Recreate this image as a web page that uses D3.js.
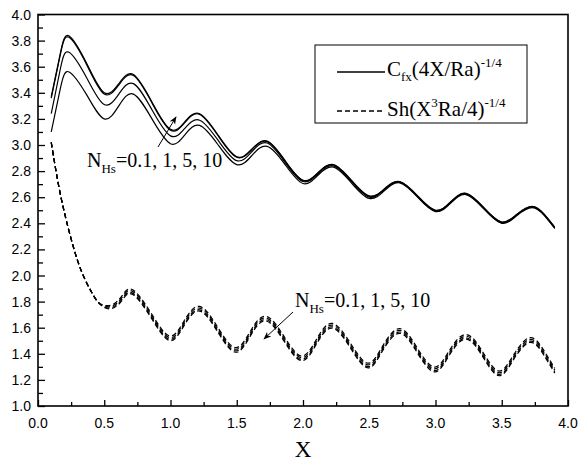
<!DOCTYPE html>
<html>
<head>
<meta charset="utf-8">
<script src="https://cdn.jsdelivr.net/npm/d3@7"></script>
<style>
  html, body { margin: 0; padding: 0; background: #fff; }
  svg { display: block; }
</style>
</head>
<body>
<svg id="chart" width="579" height="463"></svg>
<script>
// ---------- DATA ----------
const nhsLabels = ["0.1", "1", "5", "10"];

// Cfx(4X/Ra)^-1/4 curves (solid)
const cfxX = [0.1, 0.17, 0.235, 0.37, 0.5, 0.61, 0.72, 0.86, 1.0, 1.11, 1.22, 1.36, 1.5, 1.615, 1.73, 1.865, 2.0, 2.115, 2.23, 2.365, 2.5, 2.615, 2.73, 2.865, 3.0, 3.115, 3.23, 3.365, 3.5, 3.615, 3.73, 3.82, 3.9];
const cfxN01 = [3.10, 3.44, 3.56, 3.38, 3.20, 3.30, 3.39, 3.20, 3.01, 3.08, 3.15, 3.00, 2.85, 2.92, 2.99, 2.85, 2.705, 2.77, 2.83, 2.71, 2.59, 2.65, 2.71, 2.60, 2.49, 2.555, 2.62, 2.51, 2.40, 2.46, 2.52, 2.46, 2.36];
const cfxN1  = [3.24, 3.59, 3.71, 3.51, 3.31, 3.39, 3.47, 3.27, 3.07, 3.13, 3.19, 3.035, 2.88, 2.95, 3.015, 2.865, 2.72, 2.78, 2.84, 2.72, 2.60, 2.66, 2.715, 2.605, 2.495, 2.56, 2.625, 2.515, 2.405, 2.465, 2.525, 2.465, 2.365];
const cfxN5  = [3.36, 3.70, 3.825, 3.61, 3.39, 3.46, 3.533, 3.323, 3.113, 3.174, 3.235, 3.07, 2.906, 2.966, 3.026, 2.876, 2.727, 2.787, 2.847, 2.727, 2.607, 2.662, 2.718, 2.608, 2.498, 2.563, 2.628, 2.518, 2.408, 2.468, 2.528, 2.468, 2.368];
const cfxN10 = [3.37, 3.71, 3.835, 3.62, 3.40, 3.47, 3.54, 3.33, 3.12, 3.18, 3.24, 3.075, 2.91, 2.97, 3.03, 2.88, 2.73, 2.79, 2.85, 2.73, 2.61, 2.665, 2.72, 2.61, 2.50, 2.565, 2.63, 2.52, 2.41, 2.47, 2.53, 2.47, 2.37];

// Sh(X^3 Ra/4)^-1/4 curves (dashed)
const shX = [0.1, 0.15, 0.2, 0.25, 0.3, 0.35, 0.4, 0.45, 0.5, 0.56, 0.63, 0.71, 0.85, 0.99, 1.1, 1.22, 1.36, 1.49, 1.6, 1.72, 1.86, 1.99, 2.1, 2.22, 2.36, 2.49, 2.6, 2.73, 2.86, 2.99, 3.1, 3.23, 3.36, 3.48, 3.59, 3.71, 3.81, 3.9];
const shN01 = [3.02, 2.72, 2.48, 2.28, 2.11, 1.98, 1.88, 1.80, 1.772, 1.776, 1.838, 1.893, 1.718, 1.538, 1.648, 1.763, 1.598, 1.448, 1.568, 1.688, 1.528, 1.383, 1.508, 1.633, 1.478, 1.328, 1.458, 1.593, 1.448, 1.298, 1.418, 1.548, 1.408, 1.268, 1.393, 1.523, 1.438, 1.288];
const shN1  = [3.02, 2.72, 2.48, 2.28, 2.11, 1.98, 1.88, 1.80, 1.766, 1.766, 1.826, 1.880, 1.705, 1.525, 1.635, 1.750, 1.585, 1.435, 1.555, 1.675, 1.515, 1.370, 1.495, 1.620, 1.465, 1.315, 1.445, 1.580, 1.435, 1.285, 1.405, 1.535, 1.395, 1.255, 1.380, 1.510, 1.425, 1.275];
const shN5  = [3.02, 2.72, 2.48, 2.28, 2.11, 1.98, 1.88, 1.80, 1.760, 1.756, 1.814, 1.867, 1.692, 1.512, 1.622, 1.737, 1.572, 1.422, 1.542, 1.662, 1.502, 1.357, 1.482, 1.607, 1.452, 1.302, 1.432, 1.567, 1.422, 1.272, 1.392, 1.522, 1.382, 1.242, 1.367, 1.497, 1.412, 1.262];
const shN10 = [3.02, 2.72, 2.48, 2.28, 2.11, 1.98, 1.88, 1.80, 1.755, 1.748, 1.804, 1.857, 1.682, 1.502, 1.612, 1.727, 1.562, 1.412, 1.532, 1.652, 1.492, 1.347, 1.472, 1.597, 1.442, 1.292, 1.422, 1.557, 1.412, 1.262, 1.382, 1.512, 1.372, 1.232, 1.357, 1.487, 1.402, 1.252];

const xTickLabels = ["0.0", "0.5", "1.0", "1.5", "2.0", "2.5", "3.0", "3.5", "4.0"];
const yTickLabels = ["1.0", "1.2", "1.4", "1.6", "1.8", "2.0", "2.2", "2.4", "2.6", "2.8", "3.0", "3.2", "3.4", "3.6", "3.8", "4.0"];

// ---------- LAYOUT ----------
const svg = d3.select("#chart");
const L = 38, R = 568, T = 14.5, B = 406;
const x = d3.scaleLinear().domain([0, 4]).range([L, R]);
const y = d3.scaleLinear().domain([1, 4]).range([B, T]);

const serif = "'Liberation Serif', 'Times New Roman', serif";
const sans = "'Liberation Sans', Arial, sans-serif";

// ticks (inward)
const gx = svg.append("g").attr("transform", `translate(0,${B})`);
gx.call(d3.axisTop(x).tickValues(d3.range(0, 4.001, 0.25)).tickSize(0).tickFormat(""));
gx.select(".domain").remove();
gx.selectAll(".tick line").attr("y2", d => (Math.abs(d * 2 - Math.round(d * 2)) < 1e-6 ? -6 : -4)).attr("stroke", "#000").attr("stroke-width", 1.3);

const gy = svg.append("g").attr("transform", `translate(${L},0)`);
gy.call(d3.axisRight(y).tickValues(d3.range(1, 4.001, 0.1)).tickSize(0).tickFormat(""));
gy.select(".domain").remove();
gy.selectAll(".tick line").attr("x2", d => (Math.abs(d * 5 - Math.round(d * 5)) < 1e-6 ? 7 : 5)).attr("stroke", "#000").attr("stroke-width", 1.3);

// tick labels
svg.append("g").selectAll("text").data(xTickLabels).join("text")
  .attr("x", d => x(+d)).attr("y", 428)
  .attr("text-anchor", "middle")
  .attr("font-family", sans).attr("font-size", 14).attr("fill", "#000")
  .text(d => d);

svg.append("g").selectAll("text").data(yTickLabels).join("text")
  .attr("x", 31).attr("y", d => y(+d) + 5)
  .attr("text-anchor", "end")
  .attr("font-family", sans).attr("font-size", 14).attr("fill", "#000")
  .text(d => d);

// axis title
svg.append("text").attr("x", (L + R) / 2).attr("y", 457)
  .attr("text-anchor", "middle").attr("font-family", serif).attr("font-size", 23)
  .text("X");

// ---------- CURVES ----------
const line = d3.line().x(d => x(d[0])).y(d => y(d[1])).curve(d3.curveNatural);
const plot = svg.append("g");

const cfxSeries = [cfxN01, cfxN1, cfxN5, cfxN10];
cfxSeries.forEach(vals => {
  plot.append("path")
    .attr("d", line(cfxX.map((xv, i) => [xv, vals[i]])))
    .attr("fill", "none").attr("stroke", "#000").attr("stroke-width", 1.2);
});

const shSeries = [shN01, shN1, shN5, shN10];
shSeries.forEach(vals => {
  plot.append("path")
    .attr("d", line(shX.map((xv, i) => [xv, vals[i]])))
    .attr("fill", "none").attr("stroke", "#000").attr("stroke-width", 1.2)
    .attr("stroke-dasharray", "5,3");
});

// ---------- FRAME ----------
svg.append("rect").attr("x", L).attr("y", T).attr("width", R - L).attr("height", B - T)
  .attr("fill", "none").attr("stroke", "#000").attr("stroke-width", 1.6);

// ---------- ANNOTATIONS ----------
const defs = svg.append("defs");
defs.append("marker").attr("id", "ah").attr("viewBox", "0 0 10 10")
  .attr("refX", 9).attr("refY", 5).attr("markerWidth", 8).attr("markerHeight", 8)
  .attr("markerUnits", "userSpaceOnUse").attr("orient", "auto")
  .append("path").attr("d", "M0,1 L10,5 L0,9 L3,5 Z").attr("fill", "#000");

function nhsLabel(px, py) {
  const t = svg.append("text").attr("x", px).attr("y", py)
    .attr("font-family", serif).attr("font-size", 20).attr("fill", "#000");
  t.append("tspan").text("N");
  t.append("tspan").attr("font-size", 13).attr("dy", 6).text("Hs");
  t.append("tspan").attr("dy", -6).text("=" + nhsLabels.join(", "));
}
nhsLabel(87, 167);
nhsLabel(295, 307);

svg.append("line").attr("x1", 158).attr("y1", 147).attr("x2", 176).attr("y2", 117)
  .attr("stroke", "#000").attr("stroke-width", 1).attr("marker-end", "url(#ah)");
svg.append("line").attr("x1", 293).attr("y1", 312).attr("x2", 264).attr("y2", 339)
  .attr("stroke", "#000").attr("stroke-width", 1).attr("marker-end", "url(#ah)");

// ---------- LEGEND ----------
const lg = svg.append("g");
lg.append("rect").attr("x", 315).attr("y", 45).attr("width", 212).attr("height", 78)
  .attr("fill", "#fff").attr("stroke", "#000").attr("stroke-width", 1);
lg.append("line").attr("x1", 337).attr("x2", 385).attr("y1", 72).attr("y2", 72)
  .attr("stroke", "#000").attr("stroke-width", 1.3);
lg.append("line").attr("x1", 337).attr("x2", 385).attr("y1", 111).attr("y2", 111)
  .attr("stroke", "#000").attr("stroke-width", 1.3).attr("stroke-dasharray", "5,3");

const t1 = lg.append("text").attr("x", 387).attr("y", 76)
  .attr("font-family", serif).attr("font-size", 21).attr("fill", "#000");
t1.append("tspan").text("C");
t1.append("tspan").attr("font-size", 13).attr("dy", 5).text("fx");
t1.append("tspan").attr("dy", -5).text("(4X/Ra)");
t1.append("tspan").attr("font-size", 13).attr("dy", -9).text("-1/4");

const t2 = lg.append("text").attr("x", 387).attr("y", 116)
  .attr("font-family", serif).attr("font-size", 21).attr("fill", "#000");
t2.append("tspan").text("Sh(X");
t2.append("tspan").attr("font-size", 13).attr("dy", -9).text("3");
t2.append("tspan").attr("dy", 9).text("Ra/4)");
t2.append("tspan").attr("font-size", 13).attr("dy", -9).text("-1/4");
</script>
</body>
</html>
